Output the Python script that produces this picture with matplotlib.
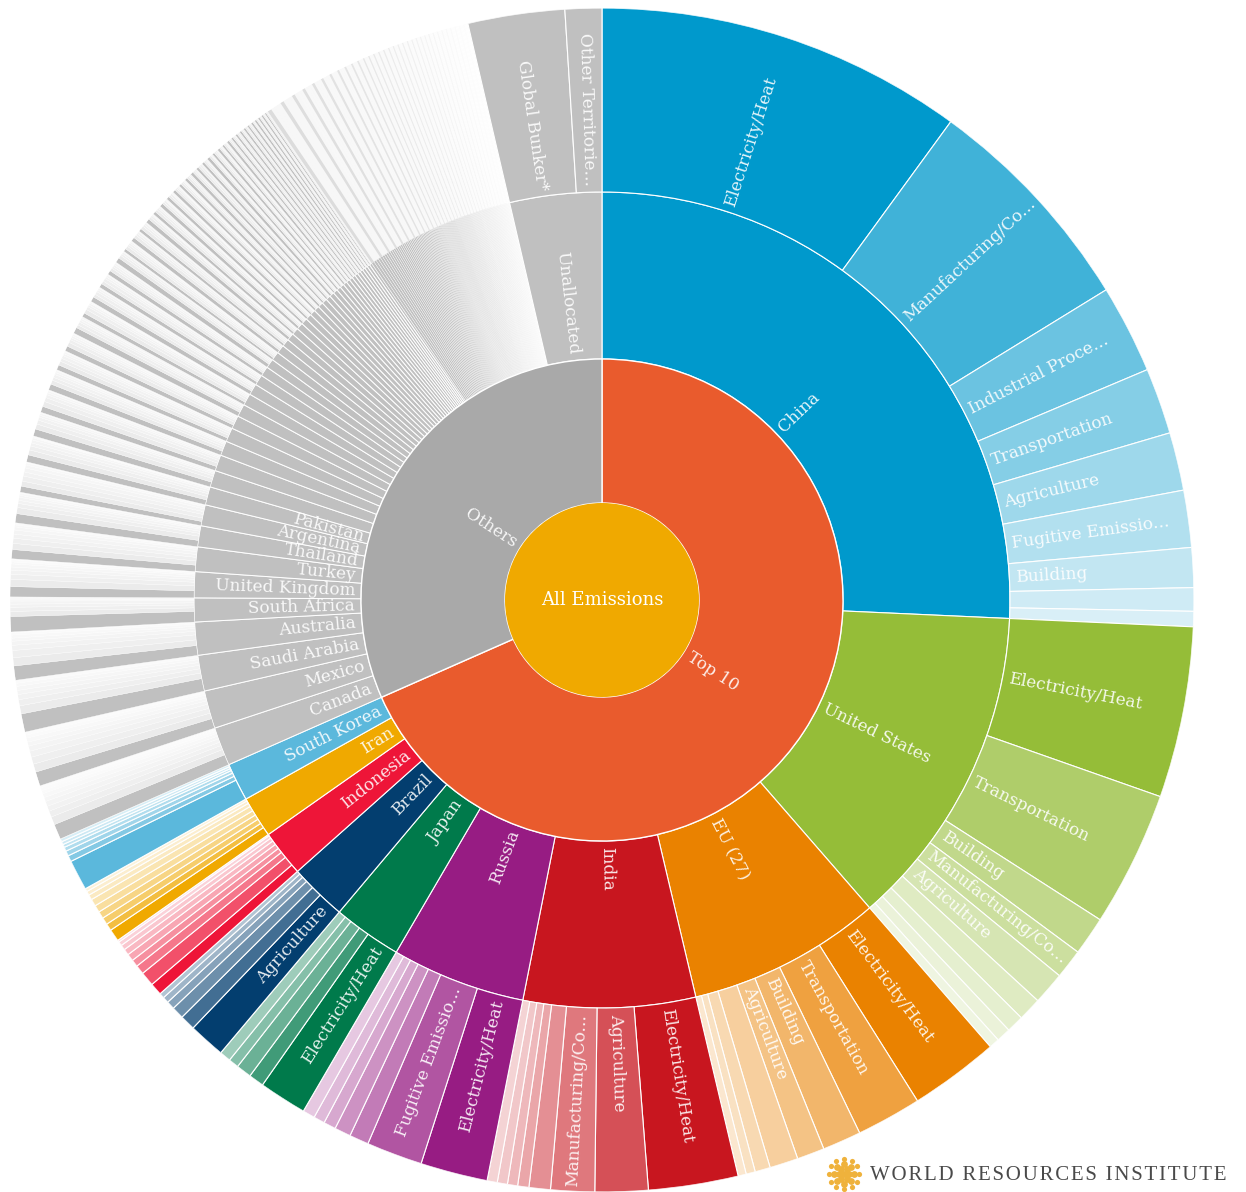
import numpy as np
import matplotlib
matplotlib.use('agg')
import matplotlib.pyplot as plt
from matplotlib.colors import to_rgba

# sector widths are degrees of the full circle
top_names = ['China', 'United States', 'EU (27)', 'India', 'Russia', 'Japan',
             'Brazil', 'Indonesia', 'Iran', 'South Korea']
top_colors = ['#0099cc', '#95bd38', '#ea8200', '#c8161f', '#971c83', '#007a4b',
              '#033e6f', '#ee1538', '#f0a900', '#5bb8dc']
top_sectors = [
    [36.1, 22.3, 8.7, 6.5, 5.7, 5.6, 3.9, 2.3, 1.5],
    [16.8, 13.3, 3.8, 2.9, 3.2, 2.3, 1.7, 1.4, 1.0],
    [8.8, 6.4, 3.8, 2.7, 2.8, 1.5, 0.9, 0.8],
    [8.8, 5.2, 4.3, 2.1, 1.1, 1.0, 1.0, 1.0],
    [6.6, 5.5, 1.9, 1.6, 1.2, 1.1, 1.2],
    [4.7, 1.5, 1.5, 1.0, 1.1],
    [3.6, 1.5, 1.2, 0.8, 0.6, 0.5],
    [1.2, 1.4, 0.9, 0.7, 0.7, 0.6, 0.5, 0.4, 0.2],
    [1.2, 0.7, 0.7, 0.7, 0.7, 0.7, 0.5, 0.4, 0.3],
    [3.0, 0.6, 0.5, 0.4, 0.3, 0.3, 0.3],
]
top_labels = [
    ['Electricity/Heat', 'Manufacturing/Co...', 'Industrial Proce...', 'Transportation',
     'Agriculture', 'Fugitive Emissio...', 'Building'],
    ['Electricity/Heat', 'Transportation', 'Building', 'Manufacturing/Co...', 'Agriculture'],
    ['Electricity/Heat', 'Transportation', 'Building', 'Agriculture'],
    ['Electricity/Heat', 'Agriculture', 'Manufacturing/Co...'],
    ['Electricity/Heat', 'Fugitive Emissio...'],
    ['Electricity/Heat'],
    ['Agriculture'],
    [], [], [],
]

other_names = ['Canada', 'Mexico', 'Saudi Arabia', 'Australia', 'South Africa',
               'United Kingdom', 'Turkey', 'Thailand', 'Argentina', 'Pakistan']
other_sectors = [
    [1.5, .8, .6, .5, .5, .4, .4, .3, .3, .2],
    [1.4, .8, .7, .6, .5, .4, .4, .3, .3],
    [1.8, .8, .6, .5, .4, .4, .3, .3],
    [1.4, .8, .7, .5, .4, .3, .3, .2, .1],
    [1.5, .5, .4, .3, .3, .2, .2],
    [1.0, .7, .5, .4, .3, .3, .2, .2, .1],
    [.9, .6, .5, .4, .4, .3, .2, .2],
    [.9, .6, .4, .3, .3, .2, .2, .1],
    [.6, .5, .5, .4, .4, .3, .2, .1],
    [.7, .5, .4, .3, .3, .2, .1, .1],
]
# the unlabelled countries after Pakistan
small_sectors = [
    [.7, .5, .4, .3, .2, .2, .1], [.6, .5, .4, .3, .2, .2, .1], [.6, .4, .3, .3, .2, .2, .1],
    [.5, .4, .3, .3, .2, .2, .1], [.5, .4, .3, .2, .2, .2, .1], [.6, .3, .3, .2, .2, .2],
    [.4, .4, .3, .2, .2, .1, .1], [.5, .3, .3, .2, .2, .1], [.4, .3, .3, .2, .2, .1],
    [.4, .3, .2, .2, .2, .1], [.5, .3, .2, .2, .1], [.3, .3, .2, .2, .15, .1],
    [.4, .3, .2, .2, .1], [.3, .3, .2, .2, .1], [.4, .25, .2, .1, .1],
    [.3, .25, .2, .15, .1], [.35, .2, .2, .1, .1], [.3, .2, .2, .1, .1],
    [.3, .2, .15, .1, .1], [.25, .2, .15, .1, .1], [.28, .2, .15, .15], [.3, .2, .15, .1],
    [.25, .2, .2, .1], [.25, .2, .13, .1], [.3, .18, .1, .1], [.22, .18, .15, .1],
    [.25, .15, .1, .1], [.2, .18, .1, .1], [.25, .15, .15], [.2, .15, .12, .05],
    [.2, .15, .15], [.2, .15, .13], [.2, .16, .1], [.18, .15, .12], [.2, .12, .1],
    [.2, .13, .08], [.18, .12, .1], [.18, .12, .1], [.15, .12, .1],
]
tiny_countries = [
    .38, .37, .36, .35, .34, .33, .32, .31, .30, .30,
    .29, .28, .28, .27, .27, .26, .26, .25, .25, .24,
    .24, .23, .23, .22, .22, .21, .21, .20, .20, .20,
    .19, .19, .18, .18, .18, .17, .17, .17, .16, .16,
    .16, .15, .15, .15, .14, .14, .14, .14, .13, .13,
    .13, .13, .13, .13, .13, .13, .13, .13, .13, .13,
    .13, .13, .13, .13, .12, .12, .12, .12, .12, .12,
    .12, .12, .12, .12, .12, .12, .12, .12, .12, .12,
    .12, .12, .12, .11, .11, .11, .11, .11, .11, .11,
    .11, .11, .11, .11, .11, .11, .10, .10, .10, .10,
    .11, .11, .11, .11, .11, .11, .11, .11, .11, .11,
    .11, .11, .11, .11, .11, .11, .11, .11, .11, .11,
    .11, .11, .11, .11, .11, .11, .11, .11, .11, .11,
    .11, .11, .11, .11, .11, .11, .11, .11, .11, .11,
]
unallocated_sectors = [9.5, 3.6]
unallocated_labels = ['Global Bunker*', 'Other Territorie...']

top_alpha = [1, .75, .58, .48, .38, .30, .24, .19, .15, .12]
other_alpha = [1, .30, .25, .20, .16, .13, .10, .08, .06, .05]
gray = '#c0c0c0'
r0, r1, r2, r3 = 97, 241, 408, 592

plt.rcParams['font.family'] = ['DejaVu Serif']
fig = plt.figure(figsize=(12.46, 11.92), dpi=100)
ax = fig.add_axes([10 / 1246, 0, 1184 / 1246, 1184 / 1192], projection='polar')
ax.set_theta_zero_location('N')
ax.set_theta_direction(-1)
ax.set_ylim(0, r3)
ax.set_axis_off()


def wedge(start, width, inner, outer, color, lw=0.8):
    ax.bar(np.radians(start), outer - inner, width=np.radians(width), bottom=inner,
           align='edge', color=color, edgecolor='white', linewidth=lw)


def label(name, start, width, inner, size=12.2, alpha=0.9):
    # labels start next to the inner edge of their ring and run along the radius
    mid = start + width / 2
    if mid < 180:
        rot, ha = 90 - mid, 'left'
    else:
        rot, ha = 270 - mid, 'right'
    ax.text(np.radians(mid), inner + 6, name, rotation=rot, ha=ha, va='center',
            rotation_mode='anchor', color='white', alpha=alpha, fontsize=size)


angle = 0
for name, color, sectors, names in zip(top_names, top_colors, top_sectors, top_labels):
    total = sum(sectors)
    wedge(angle, total, r1, r2, color)
    label(name, angle, total, r1)
    a = angle
    for i, w in enumerate(sectors):
        wedge(a, w, r2, r3, to_rgba(color, top_alpha[min(i, 9)]))
        if i < len(names):
            label(names[i], a, w, r2)
        a += w
    angle += total
top_total = angle

for i, sectors in enumerate(other_sectors + small_sectors):
    total = sum(sectors)
    wedge(angle, total, r1, r2, gray, lw=0.7)
    if i < len(other_names):
        label(other_names[i], angle, total, r1)
    a = angle
    for j, w in enumerate(sectors):
        wedge(a, w, r2, r3, to_rgba(gray, other_alpha[min(j, 9)]), lw=0.25)
        a += w
    angle += total

# the tiny countries fade out towards the unallocated block
for i, w in enumerate(tiny_countries):
    fade = 1 - i / len(tiny_countries)
    wedge(angle, w, r1, r2, to_rgba(gray, 0.08 + 0.92 * min(1, fade * 1.7)), lw=0.25)
    shade = 0.55 if i % 4 == 0 else 0.12
    wedge(angle, w, r2, r3, to_rgba(gray, shade * fade), lw=0)
    angle += w

total = sum(unallocated_sectors)
start = 360 - total
wedge(start, total, r1, r2, gray)
label('Unallocated', start, total, r1)
a = start
for name, w in zip(unallocated_labels, unallocated_sectors):
    wedge(a, w, r2, r3, gray)
    label(name, a, w, r2)
    a += w

wedge(0, top_total, r0, r1, '#e95b2d', lw=1.0)
label('Top 10', 0, top_total, r0)
wedge(top_total, 360 - top_total, r0, r1, '#a9a9a9', lw=1.0)
label('Others', top_total, 360 - top_total, r0)
ax.bar(0, r0, width=2 * np.pi, bottom=0, color='#f0a900', linewidth=0)
ax.text(0, 0, 'All Emissions', ha='center', va='center', color='white', fontsize=13)

# logo, bottom right
logo = fig.add_axes([826 / 1246, 0, 36 / 1246, 36 / 1192])
logo.set_xlim(-1, 1)
logo.set_ylim(-1, 1)
logo.set_axis_off()
for rad, n, s in [(0.0, 1, 24), (0.3, 6, 24), (0.58, 8, 24), (0.85, 12, 14)]:
    t = np.linspace(0, 2 * np.pi, n, endpoint=False)
    logo.scatter(rad * np.cos(t), rad * np.sin(t), s=s, color='#efb23c', linewidths=0)

fig.text(870 / 1246, 1 - 1176 / 1192, '\u200a'.join('WORLD RESOURCES INSTITUTE'),
         family='Liberation Serif', fontsize=15, color='#4a4a4a', va='center', ha='left')

fig.savefig('out.png', dpi=100, facecolor='white')
